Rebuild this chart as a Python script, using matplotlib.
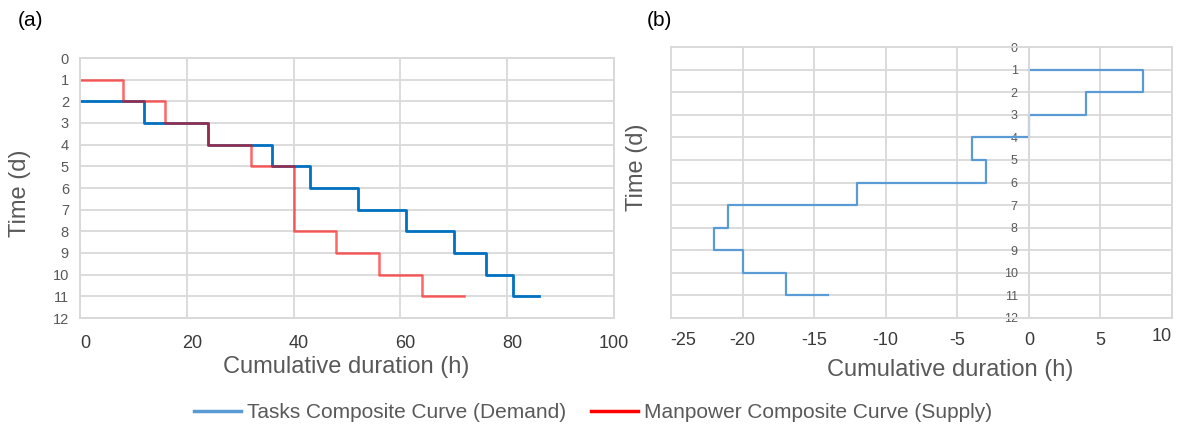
import matplotlib
matplotlib.use('Agg')
import matplotlib.pyplot as plt
from matplotlib.lines import Line2D
from matplotlib.transforms import ScaledTranslation

plt.rcParams['font.family'] = ['Liberation Sans', 'DejaVu Sans']
plt.rcParams['axes.unicode_minus'] = False

# (a) composite curves: day level and cumulative hours reached at that level
demand_days = [2, 3, 4, 5, 6, 7, 8, 9, 10, 11]
demand_hours = [12, 24, 36, 43, 52, 61, 70, 76, 81, 86]
supply_days = [1, 2, 3, 4, 5, 8, 9, 10, 11]
supply_hours = [8, 16, 24, 32, 40, 48, 56, 64, 72]

# (b) net curve (supply - demand)
net_days = [1, 2, 3, 4, 5, 6, 7, 8, 9, 10, 11]
net_hours = [8, 4, 0, -4, -3, -12, -21, -22, -20, -17, -14]

day_ticks = list(range(0, 13))
a_xticks = [0, 20, 40, 60, 80, 100]
b_xticks = [-25, -20, -15, -10, -5, 0, 5, 10]

grey = '#595959'
dark = '#3a3a3a'
gridc = '#D9D9D9'

W, H = 1179, 425
fig = plt.figure(figsize=(W / 100, H / 100), dpi=100)


def box(l, t, r, b):
    return [l / W, 1 - b / H, (r - l) / W, (b - t) / H]


def style(ax, xticks, xsize, ysize, xpad):
    ax.set_yticks(day_ticks)
    ax.set_xticks(xticks)
    ax.set_ylim(12, 0)
    ax.set_xlim(xticks[0], xticks[-1])
    ax.grid(True, color=gridc, lw=1.3)
    ax.set_axisbelow(True)
    for sp in ax.spines.values():
        sp.set_color(gridc)
        sp.set_linewidth(1.3)
    ax.tick_params(axis='x', length=0, labelsize=xsize, labelcolor=dark, pad=xpad)
    ax.tick_params(axis='y', length=0, labelsize=ysize, labelcolor=grey, pad=8)
    for gl in ax.get_xgridlines() + ax.get_ygridlines():
        gl.set_clip_on(False)


# panel (a)
ax1 = fig.add_axes(box(80, 58, 614, 318))
style(ax1, a_xticks, 13, 10.5, 12)
ax1.step([0] + demand_hours, demand_days + [demand_days[-1]], where='post',
         color='#0070C0', lw=2.0)
ax1.step([0] + supply_hours, supply_days + [supply_days[-1]], where='post',
         color='red', alpha=0.6, lw=1.8)
shift = ScaledTranslation(5 / 100, 0, fig.dpi_scale_trans)
for lab in ax1.get_xticklabels()[:-1]:
    lab.set_transform(lab.get_transform() + shift)

# panel (b)
ax2 = fig.add_axes(box(671, 47, 1172, 318))
style(ax2, b_xticks, 13, 9, 10)
ax2.spines['left'].set_position(('data', 0))
ax2.step([0] + net_hours, net_days + [net_days[-1]], where='post',
         color='#5B9BD5', lw=1.6)
labs = ax2.get_xticklabels()
labs[0].set_transform(labs[0].get_transform()
                      + ScaledTranslation(12 / 100, 0, fig.dpi_scale_trans))
labs[-1].set_horizontalalignment('right')
labs[-1].set_transform(labs[-1].get_transform()
                       + ScaledTranslation(0, 4 / 100, fig.dpi_scale_trans))

# labels
fig.text(18 / W, 1 - 20 / H, '(a)', fontsize=15, va='center')
fig.text(647 / W, 1 - 20 / H, '(b)', fontsize=15, va='center')
fig.text(20 / W, 1 - 193 / H, 'Time (d)', fontsize=17, color=grey,
         rotation=90, ha='center', va='center')
fig.text(637 / W, 1 - 167 / H, 'Time (d)', fontsize=17, color=grey,
         rotation=90, ha='center', va='center')
fig.text(346 / W, 1 - 367 / H, 'Cumulative duration (h)', fontsize=17,
         color=grey, ha='center', va='center')
fig.text(950 / W, 1 - 370 / H, 'Cumulative duration (h)', fontsize=17,
         color=grey, ha='center', va='center')

handles = [Line2D([], [], color='#5B9BD5', lw=2.5),
           Line2D([], [], color='red', lw=2.5)]
leg = fig.legend(handles, ['Tasks Composite Curve (Demand)',
                           'Manpower Composite Curve (Supply)'],
                 loc='center', bbox_to_anchor=(0.503, 1 - 413 / H), ncol=2,
                 frameon=False, fontsize=15, handlelength=2.26,
                 handletextpad=0.3, columnspacing=1.2, borderpad=0)
for t in leg.get_texts():
    t.set_color(grey)

fig.savefig('out.png', dpi=100)
